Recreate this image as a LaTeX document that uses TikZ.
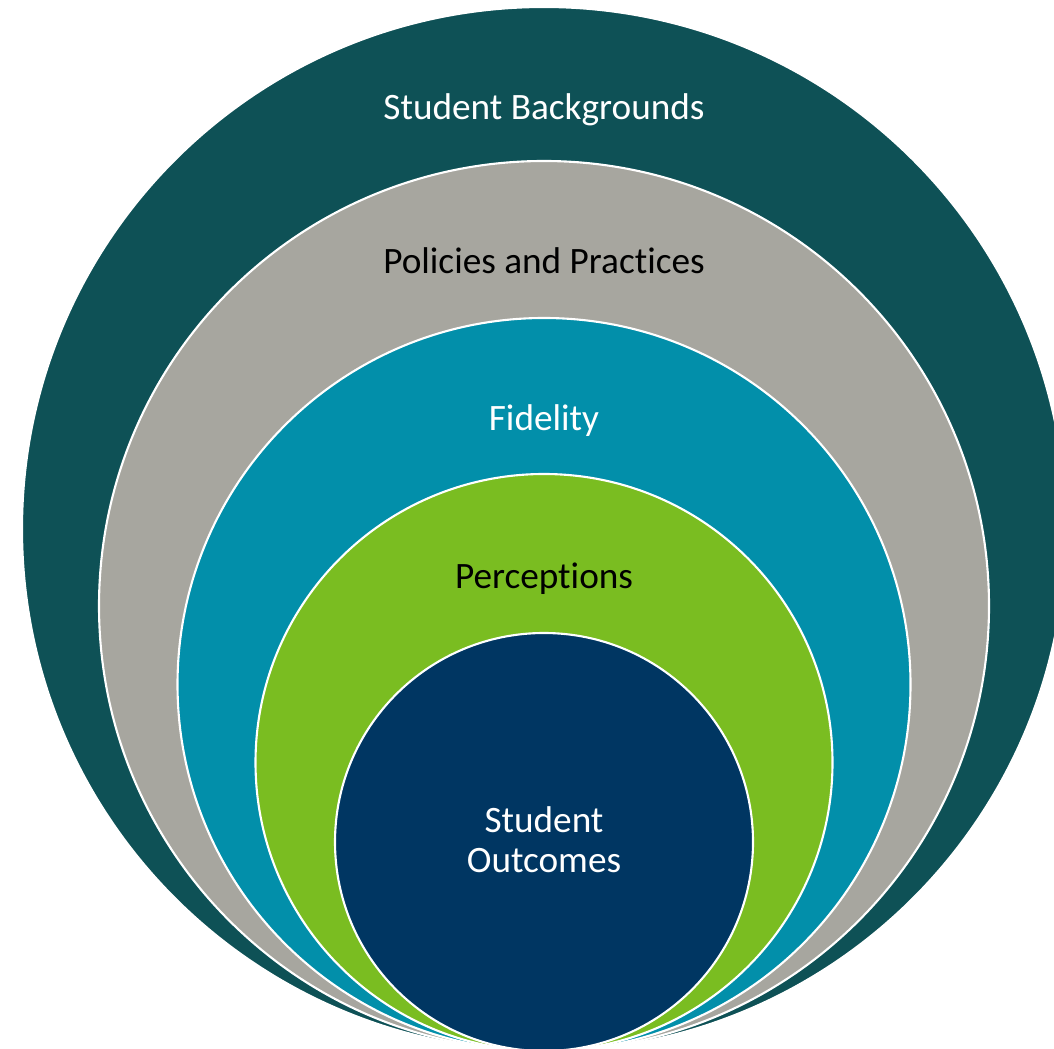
\documentclass[tikz,border=0pt]{standalone}
\usepackage{fontspec}
\setmainfont{Carlito}[Ligatures=NoCommon]
\usepackage{tikz}
\definecolor{mydeep}{RGB}{14, 81, 86}
\definecolor{mygray}{RGB}{167, 166, 159}
\definecolor{myteal}{RGB}{2, 143, 170}
\definecolor{mygreen}{RGB}{122, 189, 33}
\definecolor{mynavy}{RGB}{0, 54, 98}
\tikzstyle{ring} = [circle, draw=white, line width=0.6pt, inner sep=0,
    outer sep=0]
\tikzstyle{label} = [anchor=base, inner sep=0, align=center,
    font=\fontsize{10.6}{11.35}\selectfont]

\begin{document}
\begin{tikzpicture}
    \useasboundingbox (0,0) rectangle (10.54,-10.49);
    \clip (0,0) rectangle (10.54,-10.49);

    % 1. Place the rings, all touching at the bottom
    \node[ring, fill=mydeep, minimum size=10.44cm] (back) at (5.44,-5.29) {};
    \node[ring, fill=mygray, minimum size=8.90cm] (poli) at (5.44,-6.06) {};
    \node[ring, fill=myteal, minimum size=7.33cm] (fide) at (5.44,-6.845) {};
    \node[ring, fill=mygreen, minimum size=5.77cm] (perc) at (5.44,-7.625) {};
    \node[ring, fill=mynavy, minimum size=4.18cm] (outc) at (5.44,-8.42) {};

    % 2. Labels on the rings
    \node[label, text=white] (tback) at (5.44,-1.193) {Student Backgrounds};
    \node[label, text=black] (tpoli) at (5.44,-2.74) {Policies and Practices};
    \node[label, text=white] (tfide) at (5.44,-4.31) {Fidelity};
    \node[label, text=black] (tperc) at (5.44,-5.89) {Perceptions};
    \node[label, text=white] (toutc) at (5.44,-8.727) {Student\\Outcomes};

\end{tikzpicture}
\end{document}
